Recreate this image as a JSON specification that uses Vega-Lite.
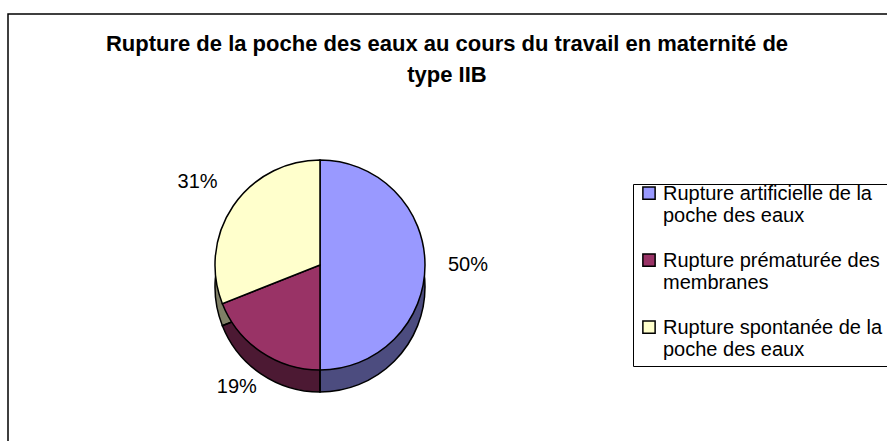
{
  "$schema": "https://vega.github.io/schema/vega-lite/v6.json",
  "autosize": "none",
  "width": 887,
  "height": 502,
  "padding": {"left": 8, "top": 14, "right": -8, "bottom": -75},
  "background": "white",
  "view": {"stroke": "#000", "strokeWidth": 1.5},
  "config": {
    "font": "Liberation Sans"
  },
  "title": {
    "text": ["Rupture de la poche des eaux au cours du travail en maternité de", "type IIB"],
    "font": "Liberation Sans",
    "fontSize": 22,
    "fontWeight": "bold",
    "color": "#000",
    "lineHeight": 31,
    "anchor": "middle",
    "frame": "group",
    "dx": -4.5,
    "baseline": "top",
    "offset": -73
  },
  "data": {
    "values": [
      {"cat": "Rupture artificielle de la poche des eaux", "share": 0.50},
      {"cat": "Rupture prématurée des membranes", "share": 0.19},
      {"cat": "Rupture spontanée de la poche des eaux", "share": 0.31}
    ]
  },
  "encoding": {
    "theta": {"field": "share", "type": "quantitative", "stack": true},
    "order": {"field": "cat", "type": "nominal", "sort": "ascending"}
  },
  "layer": [
    {
      "mark": {"type": "arc", "radius": 105, "xOffset": -131.5, "yOffset": 22},
      "encoding": {
        "color": {
          "field": "cat",
          "type": "nominal",
          "scale": {
            "domain": ["Rupture artificielle de la poche des eaux", "Rupture prématurée des membranes", "Rupture spontanée de la poche des eaux"],
            "range": ["#9999FF", "#993366", "#FFFFCC"]
          },
          "legend": {
            "orient": "none",
            "legendX": 625,
            "legendY": 170,
            "title": null,
            "labelFont": "Liberation Sans",
            "labelFontSize": 20,
            "labelColor": "#000",
            "labelLimit": 400,
            "labelOffset": 4,
            "labelBaseline": "alphabetic",
            "labelExpr": "datum.label == 'Rupture artificielle de la poche des eaux' ? ['Rupture artificielle de la', 'poche des eaux'] : datum.label == 'Rupture prématurée des membranes' ? ['Rupture prématurée des', 'membranes'] : ['Rupture spontanée de la', 'poche des eaux']",
            "symbolType": "M0,-4.13M-1,-2.14H1V-0.14H-1Z",
            "symbolSize": 150,
            "symbolStrokeColor": "#000",
            "symbolStrokeWidth": 1.5,
            "strokeColor": "#000",
            "fillColor": "#fff",
            "padding": 6,
            "rowPadding": 12
          }
        }
      }
    },
    {
      "mark": {"type": "arc", "radius": 105, "xOffset": -131.5, "yOffset": 22, "fill": "#000", "fillOpacity": 0.5, "stroke": "#000", "strokeWidth": 1.5},
      "encoding": {"detail": {"field": "cat", "type": "nominal"}}
    },
    {
      "mark": {"type": "arc", "radius": 105, "xOffset": -131.5, "stroke": "#000", "strokeWidth": 1.5},
      "encoding": {
        "color": {"field": "cat", "type": "nominal"}
      }
    },
    {
      "mark": {"type": "text", "radius": 148, "xOffset": -131.5, "font": "Liberation Sans", "fontSize": 20, "fill": "#000"},
      "encoding": {
        "detail": {"field": "cat", "type": "nominal"},
        "text": {"field": "share", "type": "quantitative", "format": ".0%"}
      }
    }
  ]
}
